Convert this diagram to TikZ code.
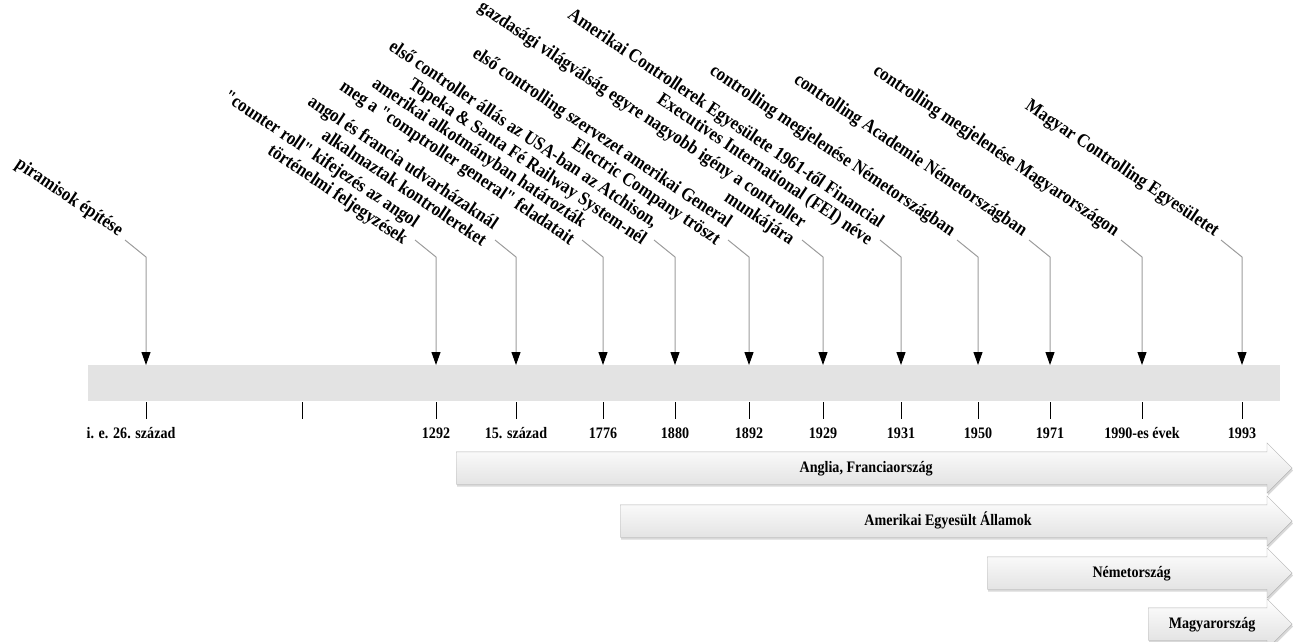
\documentclass[tikz,border=0pt]{standalone}
\usepackage{fontspec}
\setmainfont[FakeStretch=0.88,Ligatures=TeXOff]{Liberation Serif}
\usetikzlibrary{arrows.meta,shapes.arrows,shadows}

\definecolor{bargray}{HTML}{E3E3E3}
\definecolor{leadgray}{HTML}{9C9C9C}

\tikzset{
  evtext/.style={rotate=-34, anchor=east, align=right, inner sep=0pt,
    font=\fontsize{19}{20.5}\selectfont\bfseries},
  leader/.style={draw=leadgray, line width=1pt, -{Triangle[width=9pt,length=13pt,color=black]}},
  tickln/.style={draw=black, line width=1pt},
  yearlbl/.style={anchor=base, inner sep=0pt, font=\fontsize{16}{18}\selectfont\bfseries},
  region/.style={single arrow, single arrow head extend=9pt, anchor=tail,
    draw=black!30, top color=white, bottom color=black!13,
    text height=11pt, text depth=3pt, inner ysep=9pt, inner xsep=0pt,
    drop shadow={shadow xshift=1pt, shadow yshift=-2.5pt, opacity=0.3},
    font=\fontsize{16}{18}\selectfont\bfseries}
}

\begin{document}
\begin{tikzpicture}[x=1pt,y=-1pt]
\useasboundingbox (0,0) rectangle (1293,642);
\node[fill=bargray, minimum width=1192pt, minimum height=36pt, inner sep=0pt, anchor=north west] (bar) at (88,365) {};

\coordinate (k1) at (146,257);
\node[evtext] (e1) at ([shift={(-25,-24)}]k1) {piramisok építése};
\draw[leader] ([shift={(-21,-17)}]k1) -- (k1) -- (k1 |- bar.north);

\coordinate (k2) at (436,257);
\node[evtext] (e2) at ([shift={(-25,-24)}]k2) {"counter roll" kifejezés az  angol\\történelmi feljegyzések};
\draw[leader] ([shift={(-21,-17)}]k2) -- (k2) -- (k2 |- bar.north);

\coordinate (k3) at (516,257);
\node[evtext] (e3) at ([shift={(-25,-24)}]k3) {angol és francia udvarházaknál\\alkalmaztak kontrollereket};
\draw[leader] ([shift={(-21,-17)}]k3) -- (k3) -- (k3 |- bar.north);

\coordinate (k4) at (603,257);
\node[evtext] (e4) at ([shift={(-25,-24)}]k4) {amerikai alkotmányban határozták\\meg a "comptroller general" feladatait};
\draw[leader] ([shift={(-21,-17)}]k4) -- (k4) -- (k4 |- bar.north);

\coordinate (k5) at (675,257);
\node[evtext] (e5) at ([shift={(-25,-24)}]k5) {első controller állás az USA-ban az Atchison,\\Topeka \& Santa Fé Railway System-nél};
\draw[leader] ([shift={(-21,-17)}]k5) -- (k5) -- (k5 |- bar.north);

\coordinate (k6) at (749,257);
\node[evtext] (e6) at ([shift={(-25,-24)}]k6) {első controlling szervezet  amerikai General\\Electric Company tröszt};
\draw[leader] ([shift={(-21,-17)}]k6) -- (k6) -- (k6 |- bar.north);

\coordinate (k7) at (823,257);
\node[evtext] (e7) at ([shift={(-25,-24)}]k7) {gazdasági világválság egyre nagyobb igény a controller\\munkájára};
\draw[leader] ([shift={(-21,-17)}]k7) -- (k7) -- (k7 |- bar.north);

\coordinate (k8) at (901,257);
\node[evtext] (e8) at ([shift={(-25,-24)}]k8) {Amerikai Controllerek Egyesülete  1961-től Financial\\Executives International (FEI) néve};
\draw[leader] ([shift={(-21,-17)}]k8) -- (k8) -- (k8 |- bar.north);

\coordinate (k9) at (978,257);
\node[evtext] (e9) at ([shift={(-25,-24)}]k9) {controlling megjelenése  Németországban};
\draw[leader] ([shift={(-21,-17)}]k9) -- (k9) -- (k9 |- bar.north);

\coordinate (k10) at (1050,257);
\node[evtext] (e10) at ([shift={(-25,-24)}]k10) {controlling Academie Németországban};
\draw[leader] ([shift={(-21,-17)}]k10) -- (k10) -- (k10 |- bar.north);

\coordinate (k11) at (1142,257);
\node[evtext] (e11) at ([shift={(-25,-24)}]k11) {controlling megjelenése Magyarországon};
\draw[leader] ([shift={(-21,-17)}]k11) -- (k11) -- (k11 |- bar.north);

\coordinate (k12) at (1242,257);
\node[evtext] (e12) at ([shift={(-25,-24)}]k12) {Magyar Controlling Egyesületet};
\draw[leader] ([shift={(-21,-17)}]k12) -- (k12) -- (k12 |- bar.north);

\draw[tickln] (146,402) -- (146,419);
\draw[tickln] (302,402) -- (302,419);
\draw[tickln] (436,402) -- (436,419);
\draw[tickln] (516,402) -- (516,419);
\draw[tickln] (603,402) -- (603,419);
\draw[tickln] (675,402) -- (675,419);
\draw[tickln] (749,402) -- (749,419);
\draw[tickln] (823,402) -- (823,419);
\draw[tickln] (901,402) -- (901,419);
\draw[tickln] (978,402) -- (978,419);
\draw[tickln] (1050,402) -- (1050,419);
\draw[tickln] (1142,402) -- (1142,419);
\draw[tickln] (1242,402) -- (1242,419);

\node[yearlbl] (y1) at (131,438) {i. e. 26. század};
\node[yearlbl] (y2) at (436,438) {1292};
\node[yearlbl] (y3) at (516,438) {15. század};
\node[yearlbl] (y4) at (603,438) {1776};
\node[yearlbl] (y5) at (675,438) {1880};
\node[yearlbl] (y6) at (749,438) {1892};
\node[yearlbl] (y7) at (823,438) {1929};
\node[yearlbl] (y8) at (901,438) {1931};
\node[yearlbl] (y9) at (978,438) {1950};
\node[yearlbl] (y10) at (1050,438) {1971};
\node[yearlbl] (y11) at (1142,438) {1990-es évek};
\node[yearlbl] (y12) at (1242,438) {1993};

\node[region, minimum height=836pt] (r1) at (456,468) {Anglia, Franciaország};
\node[region, minimum height=672pt] (r2) at (620,521) {Amerikai Egyesült Államok};
\node[region, minimum height=305pt] (r3) at (987,573) {Németország};
\node[region, minimum height=144pt] (r4) at (1148,624) {Magyarország};
\end{tikzpicture}
\end{document}
